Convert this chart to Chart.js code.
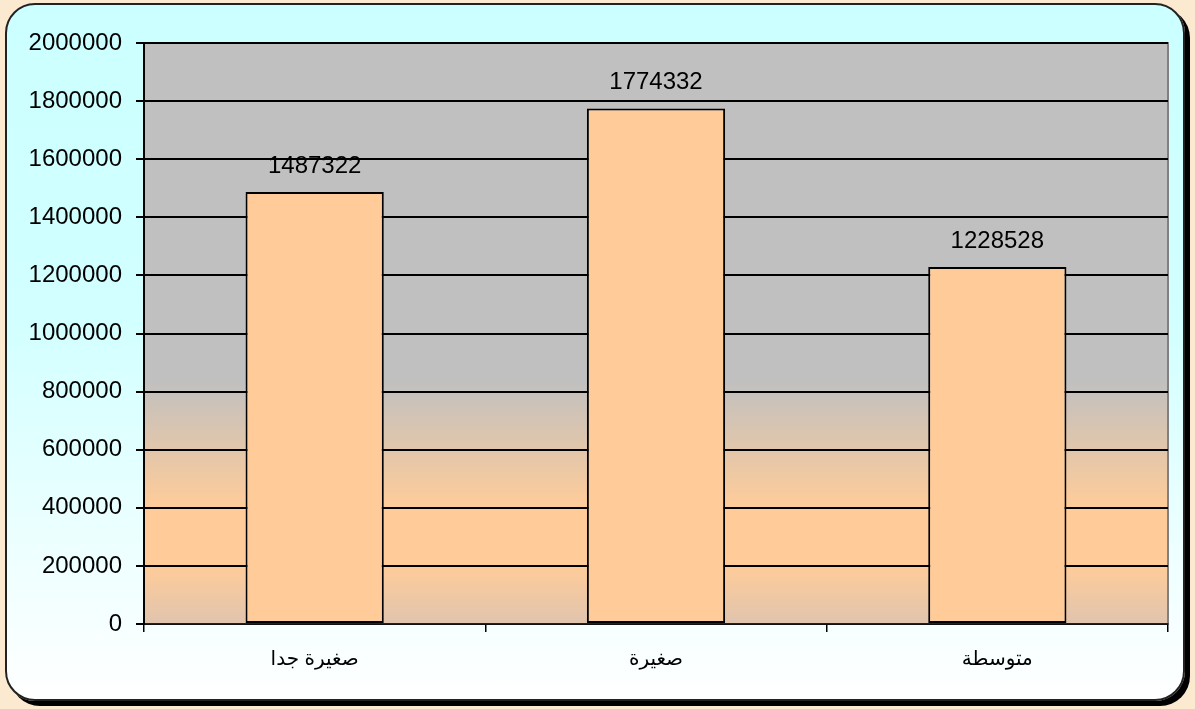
<!DOCTYPE html>
<html>
<head>
<meta charset="utf-8">
<script src="https://cdn.jsdelivr.net/npm/chart.js@4/dist/chart.umd.min.js"></script>
<style>
  html, body { margin: 0; padding: 0; background: #fbe9d0; }
  #wrap { position: relative; width: 1195px; height: 709px; overflow: hidden; }
  #card {
    position: absolute; left: 5px; top: 3px; width: 1176px; height: 694px;
    border: 2px solid #222; border-radius: 30px;
    box-shadow: 5px 5px 0 #000;
    background: linear-gradient(to bottom, #ccffff 0%, #d2ffff 45%, #ffffff 100%);
  }
  #c { position: absolute; left: 0; top: 0; }
</style>
</head>
<body>
<div id="wrap">
  <div id="card"></div>
  <canvas id="c" width="1195" height="709"></canvas>
</div>
<script>
// categories and values
const categories = ["صغيرة جدا", "صغيرة", "متوسطة"];
const values = [1487322, 1774332, 1228528];
const yMin = 0, yMax = 2000000, yStep = 200000;

const FONT = '"Liberation Sans", Arial, "DejaVu Sans", sans-serif';

// grey -> peach gradient behind the bars, grey border top/right
const plotBg = {
  id: "plotBg",
  beforeDraw(chart) {
    const { ctx, chartArea: { left, top, right, bottom } } = chart;
    const g = ctx.createLinearGradient(0, top, 0, bottom);
    g.addColorStop(0, "#c0c0c0");
    g.addColorStop(0.58, "#c0c0c0");
    g.addColorStop(0.8, "#ffcc99");
    g.addColorStop(0.9, "#ffcc99");
    g.addColorStop(1, "#e0c4ae");
    ctx.save();
    ctx.fillStyle = g;
    ctx.fillRect(left, top, right - left, bottom - top);
    ctx.strokeStyle = "#808080";
    ctx.lineWidth = 2;
    ctx.strokeRect(left, top, right - left, bottom - top);
    ctx.restore();
  }
};

// value labels above each bar
const valueLabels = {
  id: "valueLabels",
  afterDatasetsDraw(chart) {
    const { ctx } = chart;
    const meta = chart.getDatasetMeta(0);
    ctx.save();
    ctx.font = "24px " + FONT;
    ctx.fillStyle = "#000";
    ctx.textAlign = "center";
    ctx.textBaseline = "middle";
    meta.data.forEach((bar, i) => {
      ctx.fillText(String(values[i]), bar.x, bar.y - 26);
    });
    ctx.restore();
  }
};

new Chart(document.getElementById("c"), {
  type: "bar",
  plugins: [plotBg, valueLabels],
  data: {
    labels: categories,
    datasets: [{
      data: values,
      backgroundColor: "#ffcc99",
      borderColor: "#000",
      borderWidth: 2,
      borderSkipped: false,
      barPercentage: 0.405,
      categoryPercentage: 1
    }]
  },
  options: {
    responsive: false,
    animation: false,
    devicePixelRatio: 1,
    layout: { padding: { left: 0, top: 43, right: 27, bottom: 0 } },
    plugins: { legend: { display: false }, tooltip: { enabled: false } },
    scales: {
      x: {
        afterFit: s => { s.height = 85; },
        ticks: { color: "#000", font: { family: FONT, size: 20 }, padding: 15 },
        grid: { drawOnChartArea: false, drawTicks: true, tickLength: 8, color: "#000", lineWidth: 1.5 },
        border: { color: "#222", width: 1.5 }
      },
      y: {
        min: yMin, max: yMax,
        afterFit: s => { s.width = 144; },
        ticks: {
          stepSize: yStep, color: "#000", padding: 14,
          font: { family: FONT, size: 24 },
          callback: v => String(v)
        },
        grid: { color: "#000", lineWidth: 2, tickLength: 8 },
        border: { color: "#000", width: 2 }
      }
    }
  }
});
</script>
</body>
</html>
